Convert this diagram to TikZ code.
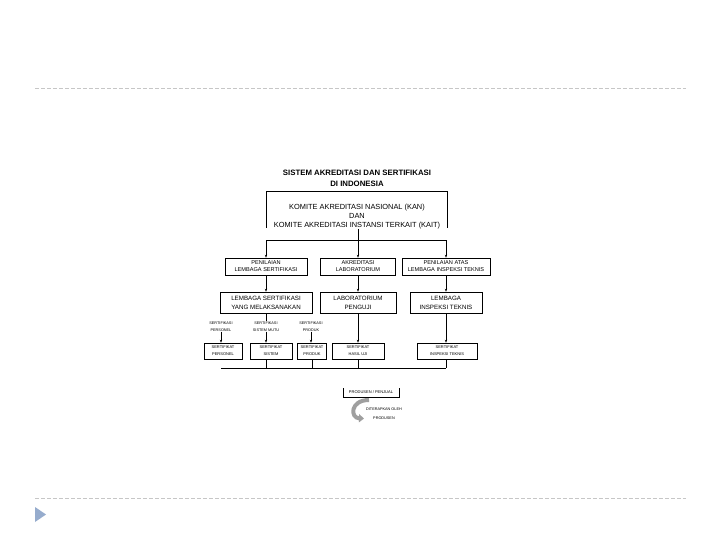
\documentclass[tikz,border=0pt]{standalone}
\usepackage{fontspec}
\setmainfont{Liberation Sans}
\usetikzlibrary{positioning}
\usetikzlibrary{arrows.meta}

\tikzset{
  box/.style={draw,line width=0.6pt,inner sep=0pt,align=center,font=\fontsize{5.6}{7}\selectfont},
  midbox/.style={box,font=\fontsize{6.2}{9}\selectfont},
  certbox/.style={box,font=\fontsize{4}{7}\selectfont},
  lbl/.style={inner sep=0pt,align=center,font=\fontsize{3.8}{7}\selectfont},
  arr/.style={-{Stealth[length=3pt,width=2.4pt]},line width=0.6pt},
  ln/.style={line width=0.6pt},
  sep/.style={gray!45,line width=0.8pt,dash pattern=on 4pt off 2pt}
}
\definecolor{tricol}{RGB}{150,172,205}

\begin{document}
\begin{tikzpicture}[x=1pt,y=-1pt]
 \useasboundingbox[fill=white] (0,0) rectangle (720,540);
 % slide rules
 \draw[sep] (35,88) -- (686,88);
 \draw[sep] (35,498) -- (686,498);
 \fill[tricol] (35,507) -- (46,514.5) -- (35,522) -- cycle;

 % title and top box
 \node[inner sep=0pt,align=center,font=\bfseries\fontsize{7.8}{11}\selectfont] (title) at (357,178)
   {SISTEM AKREDITASI DAN SERTIFIKASI\\DI INDONESIA};
 \draw[ln] (266,228) -- (266,191) -- (447,191) -- (447,228);
 \node[inner sep=0pt,align=center,font=\fontsize{7.4}{9}\selectfont] (kan) at (357,216.5)
   {KOMITE AKREDITASI NASIONAL (KAN)\\DAN\\KOMITE AKREDITASI INSTANSI TERKAIT (KAIT)};
 \coordinate (kanbot) at (358,229);
 \coordinate (split) at (358,240);

 % second row
 \node[box,minimum width=82pt,minimum height=17pt] (penls) at (266,266.5) {PENILAIAN\\LEMBAGA SERTIFIKASI};
 \node[box,minimum width=75pt,minimum height=17pt] (aklab) at (358,266.5) {AKREDITASI\\LABORATORIUM};
 \node[box,minimum width=88pt,minimum height=17pt] (penlit) at (446,266.5) {PENILAIAN ATAS\\LEMBAGA INSPEKSI TEKNIS};

 % third row
 \node[midbox,minimum width=92pt,minimum height=21pt] (lsm) at (266,302.5) {LEMBAGA SERTIFIKASI\\YANG MELAKSANAKAN};
 \node[midbox,minimum width=76pt,minimum height=21pt] (labuji) at (358,302.5) {LABORATORIUM\\PENGUJI};
 \node[midbox,minimum width=72pt,minimum height=21pt] (lit) at (446,302.5) {LEMBAGA\\INSPEKSI TEKNIS};

 % kinds of certification
 \node[lbl] (lbper) at (221,326.5) {SERTIFIKASI\\PERSONEL};
 \node[lbl] (lbsis) at (266,326.5) {SERTIFIKASI\\SISTEM MUTU};
 \node[lbl] (lbprod) at (311,326.5) {SERTIFIKASI\\PRODUK};

 % certificates
 \node[certbox,minimum width=38pt,minimum height=16pt] (stper) at (223,351) {SERTIFIKAT\\PERSONEL};
 \node[certbox,minimum width=42pt,minimum height=16pt] (stsis) at (271,351) {SERTIFIKAT\\SISTEM};
 \node[certbox,minimum width=29pt,minimum height=16pt] (stprod) at (312,351) {SERTIFIKAT\\PRODUK};
 \node[certbox,minimum width=52pt,minimum height=16pt] (sthu) at (358,351) {SERTIFIKAT\\HASIL UJI};
 \node[certbox,minimum width=60pt,minimum height=16pt] (stit) at (447,351) {SERTIFIKAT\\INSPEKSI TEKNIS};
 \coordinate (bus) at (300,368);

 % producer
 \node[inner sep=0pt,font=\fontsize{4}{7}\selectfont] (prod) at (371,392.5) {PRODUSEN / PENJUAL};
 \draw[ln] (343,388) -- (343,397) -- (399,397) -- (399,388);
 \draw[line width=4pt,gray!75,-{Triangle[length=5pt,width=8pt]}] (369,400) .. controls (350,400) and (350,418) .. (364,418.5);
 \node[lbl,font=\fontsize{3.8}{9}\selectfont] (apply) at (384,413.5) {DITERAPKAN OLEH\\PRODUSEN};

 % connectors
 \draw[ln] (kanbot) -- (split);
 \draw[ln] (penls.north |- split) -- (penlit.north |- split);
 \draw[arr] (penls.north |- split) -- (penls.north);
 \draw[arr] (split) -- (aklab.north);
 \draw[arr] (penlit.north |- split) -- (penlit.north);
 \draw[arr] (penls.south) -- (lsm.north);
 \draw[arr] (aklab.south) -- (labuji.north);
 \draw[arr] (penlit.south) -- (lit.north);
 \draw[ln] (lsm.south) -- (lbsis.north);
 \draw[arr] (lbper.south) -- (lbper.south |- stper.north);
 \draw[arr] (lbsis.south) -- (lbsis.south |- stsis.north);
 \draw[arr] (lbprod.south) -- (lbprod.south |- stprod.north);
 \draw[arr] (labuji.south) -- (sthu.north);
 \draw[arr] (lit.south) -- (lit.south |- stit.north);
 \draw[ln] (lbper.south |- bus) -- (lit.south |- bus);
 \draw[ln] (lbsis.south |- stsis.south) -- (lbsis.south |- bus);
 \draw[ln] (stprod.south) -- (stprod.south |- bus);
 \draw[ln] (sthu.south) -- (sthu.south |- bus);
 \draw[ln] (lit.south |- stit.south) -- (lit.south |- bus);
\end{tikzpicture}
\end{document}
